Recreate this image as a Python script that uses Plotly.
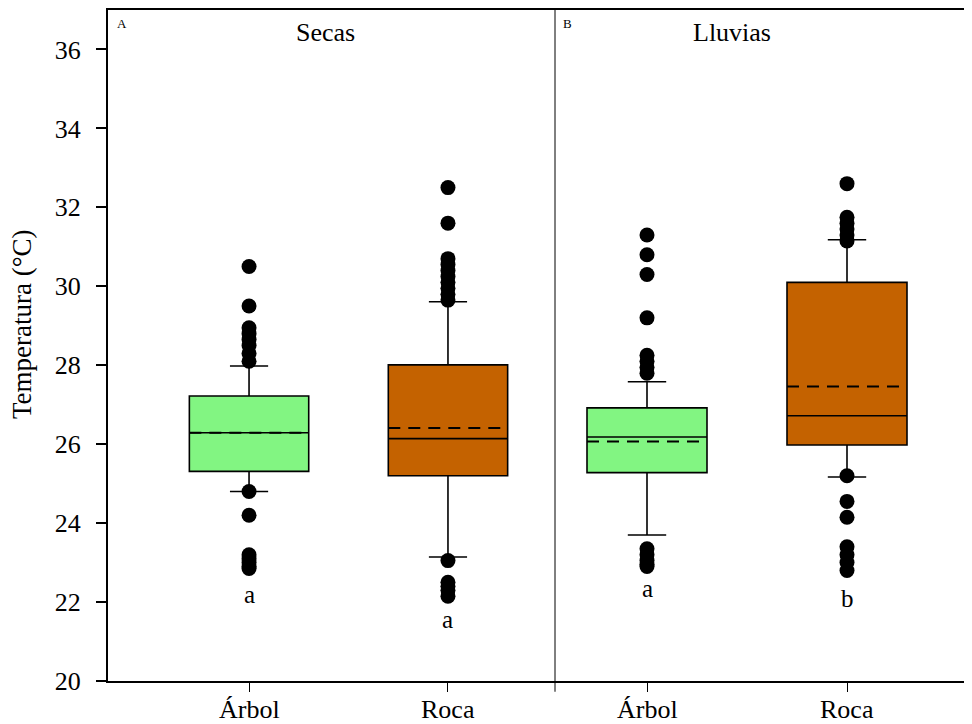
import plotly.graph_objects as go

# ---------------- data ----------------
categories = ["Árbol", "Roca"]
panels = ["Secas", "Lluvias"]
panel_tags = ["A", "B"]

# Secas (panel A)
secas_q1 = [25.31, 25.20]
secas_median = [26.29, 26.14]
secas_q3 = [27.22, 28.01]
secas_lower = [24.80, 23.14]
secas_upper = [27.98, 29.61]
secas_mean = [26.29, 26.41]
secas_out_arbol = [30.5, 29.5, 28.95, 28.8, 28.65, 28.5, 28.3, 28.1, 24.8, 24.2, 23.2, 23.1, 23.0, 22.9, 22.85]
secas_out_roca = [32.5, 31.6, 30.7, 30.55, 30.4, 30.25, 30.1, 29.95, 29.8, 29.65, 23.05, 22.5, 22.4, 22.3, 22.15]
secas_letters = ["a", "a"]
secas_letter_y = [22.2, 21.55]

# Lluvias (panel B)
lluvias_q1 = [25.28, 25.98]
lluvias_median = [26.18, 26.72]
lluvias_q3 = [26.92, 30.10]
lluvias_lower = [23.70, 25.17]
lluvias_upper = [27.58, 31.18]
lluvias_mean = [26.07, 27.46]
lluvias_out_arbol = [31.3, 30.8, 30.3, 29.2, 28.25, 28.1, 27.95, 27.8, 23.35, 23.2, 23.05, 22.95, 22.9]
lluvias_out_roca = [32.6, 31.75, 31.6, 31.45, 31.3, 31.15, 25.2, 24.55, 24.15, 23.4, 23.2, 23.0, 22.8]
lluvias_letters = ["a", "b"]
lluvias_letter_y = [22.35, 22.1]

colors = ["#82F582", "#C46200"]
yticks = [20, 22, 24, 26, 28, 30, 32, 34, 36]

# ---------------- figure ----------------
FONT = "Liberation Serif, Times New Roman, serif"
BOX_W = 0.6
fig = go.Figure()

panel_data = [
    ("x", secas_q1, secas_median, secas_q3, secas_lower, secas_upper, secas_mean,
     [secas_out_arbol, secas_out_roca], secas_letters, secas_letter_y),
    ("x2", lluvias_q1, lluvias_median, lluvias_q3, lluvias_lower, lluvias_upper, lluvias_mean,
     [lluvias_out_arbol, lluvias_out_roca], lluvias_letters, lluvias_letter_y),
]

annotations = []
for xref, q1, med, q3, lo, up, mn, outs, letters, letter_y in panel_data:
    for i, cat in enumerate(categories):
        fig.add_trace(go.Box(
            x=[i], q1=[q1[i]], median=[med[i]], q3=[q3[i]],
            lowerfence=[lo[i]], upperfence=[up[i]],
            boxmean=False, boxpoints=False, width=BOX_W, whiskerwidth=0.32,
            fillcolor=colors[i], line=dict(color="black", width=1.6),
            xaxis=xref, yaxis="y", showlegend=False, hoverinfo="skip",
        ))
        # mean line (dashed)
        fig.add_trace(go.Scatter(
            x=[i - BOX_W / 2, i + BOX_W / 2], y=[mn[i], mn[i]], mode="lines",
            line=dict(color="black", width=2, dash="12px,8px"),
            xaxis=xref, yaxis="y", showlegend=False, hoverinfo="skip",
        ))
        fig.add_trace(go.Scatter(
            x=[i] * len(outs[i]), y=outs[i], mode="markers",
            marker=dict(color="black", size=15),
            xaxis=xref, yaxis="y", showlegend=False, hoverinfo="skip",
        ))
        annotations.append(dict(
            x=i, y=letter_y[i], xref=xref, yref="y", text=letters[i],
            showarrow=False, font=dict(family=FONT, size=25, color="black"),
            xanchor="center", yanchor="middle",
        ))
        # category label under the axis
        annotations.append(dict(
            x=i, y=-0.043, xref=xref, yref="paper", text=cat,
            showarrow=False, font=dict(family=FONT, size=26, color="black"),
            xanchor="center", yanchor="middle",
        ))

split = 447 / 864

annotations += [
    dict(x=0.2523, y=0.967, xref="paper", yref="paper", text=panels[0], showarrow=False,
         font=dict(family=FONT, size=26, color="black"), xanchor="center", yanchor="middle"),
    dict(x=0.7222, y=0.967, xref="paper", yref="paper", text=panels[1], showarrow=False,
         font=dict(family=FONT, size=26, color="black"), xanchor="center", yanchor="middle"),
    dict(x=(122 - 108) / 864, y=(681 - 22) / 673, xref="paper", yref="paper", text=panel_tags[0],
         showarrow=False, font=dict(family=FONT, size=13, color="black"), xanchor="center", yanchor="middle"),
    dict(x=(567 - 108) / 864, y=(681 - 22) / 673, xref="paper", yref="paper", text=panel_tags[1],
         showarrow=False, font=dict(family=FONT, size=13, color="black"), xanchor="center", yanchor="middle"),
    dict(x=(22 - 108) / 864, y=(681 - 323) / 673, xref="paper", yref="paper", text="Temperatura (°C)",
         showarrow=False, textangle=-90, font=dict(family=FONT, size=27, color="black"),
         xanchor="center", yanchor="middle"),
]

xaxis_common = dict(
    tickmode="array", tickvals=[0, 1], showticklabels=False,
    ticks="outside", ticklen=9, tickwidth=1, tickcolor="black",
    showline=True, linecolor="black", linewidth=2, mirror=True,
    showgrid=False, zeroline=False, anchor="y",
)

fig.update_layout(
    width=964, height=716,
    margin=dict(l=100, r=0, t=0, b=43),
    paper_bgcolor="white", plot_bgcolor="white",
    xaxis=dict(domain=[0, split], range=[-0.709, 1.538], **xaxis_common),
    xaxis2=dict(domain=[split, 1], range=[-0.46, 1.625], **xaxis_common),
    yaxis=dict(
        range=[20, 37], tickmode="array", tickvals=yticks,
        ticks="outside", ticklen=10, tickwidth=1.5, tickcolor="black",
        showline=True, linecolor="black", linewidth=2, mirror=False,
        showgrid=False, zeroline=False,
        tickfont=dict(family=FONT, size=26, color="black"),
        ticklabelstandoff=10,
    ),
    annotations=annotations,
    shapes=[dict(type="line", xref="paper", yref="paper", x0=split, x1=split,
                 y0=-0.016, y1=1, line=dict(color="black", width=1))],
    showlegend=False,
)

fig.write_html("out.html")
